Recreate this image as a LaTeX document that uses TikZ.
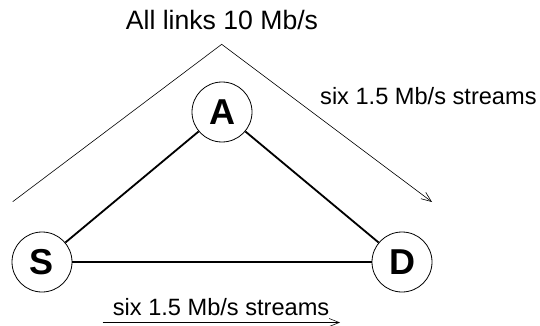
\documentclass[tikz,border=0pt]{standalone}
\usepackage{fontspec}
\setmainfont{Liberation Sans}
\usetikzlibrary{arrows.meta}
\begin{document}
\begin{tikzpicture}[x=1pt,y=-1pt,
  router/.style={circle,draw,line width=0.8pt,minimum size=60pt,inner sep=0pt,
    font=\fontsize{36}{36}\selectfont\bfseries},
  link/.style={line width=1.8pt},
  flow/.style={line width=0.6pt,-{Straight Barb[length=10pt,width=8pt,line width=0.6pt]}},
  caption/.style={inner sep=0pt,font=\fontsize{23.6}{24}\selectfont},
  title/.style={inner sep=0pt,font=\fontsize{26.6}{28}\selectfont}]
  \useasboundingbox (0,0) rectangle (540,326);

  % routers
  \node[router] (A) at (222,112) {A};
  \node[router] (S) at (42,262) {S};
  \node[router] (D) at (402,262) {D};

  % links
  \draw[link] (S) -- (A);
  \draw[link] (A) -- (D);
  \draw[link] (S) -- (D);

  % labels
  \node[title,anchor=base] (t) at (222,30) {All links 10 Mb/s};
  \node[caption,anchor=base west] (r) at (320,105) {six 1.5 Mb/s streams};
  \node[caption,anchor=base west] (b) at (112.7,315) {six 1.5 Mb/s streams};

  % path of the streams via A
  \coordinate (c0) at (12.7,201.7);
  \coordinate (c1) at (221.7,44.3);
  \coordinate (c2) at (432,202);
  \draw[flow] (c0) -- (c1) -- (c2);

  % direct path of the streams
  \coordinate (d0) at (102.7,322.5);
  \coordinate (d1) at (340,322.5);
  \draw[flow] (d0) -- (d1);
\end{tikzpicture}
\end{document}
